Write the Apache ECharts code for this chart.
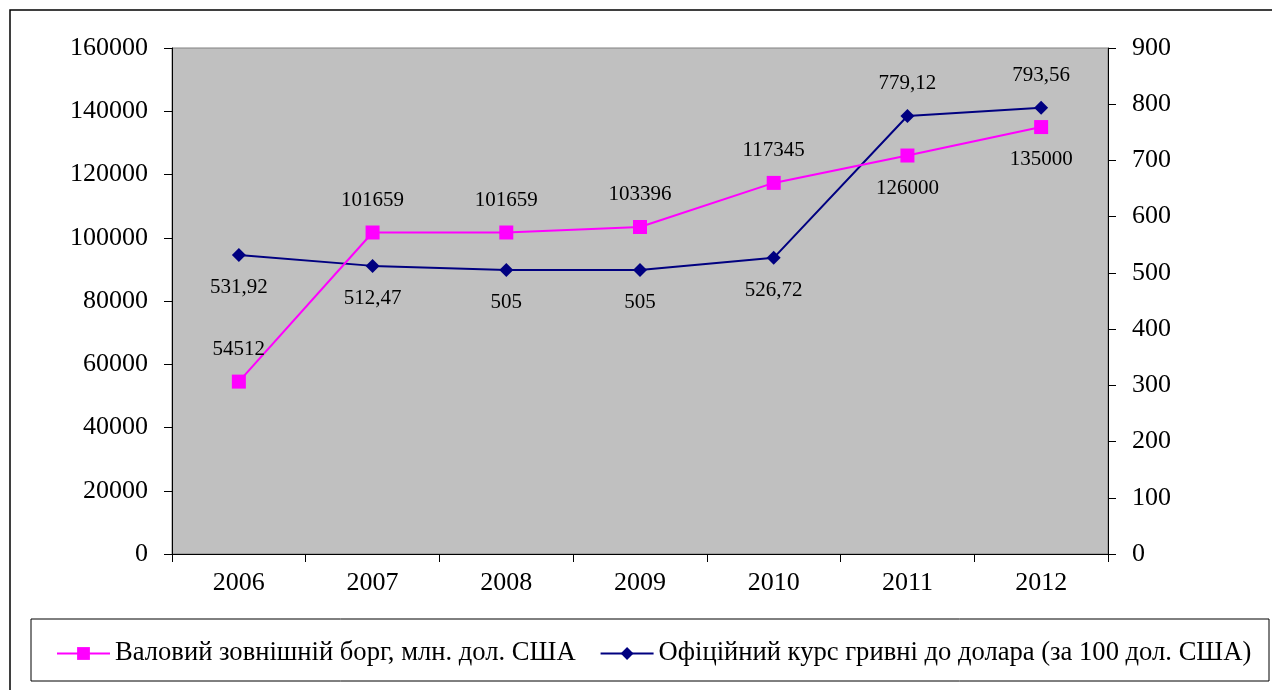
<!DOCTYPE html>
<html><head><meta charset="utf-8">
<script src="https://cdn.jsdelivr.net/npm/echarts@6/dist/echarts.min.js"></script>
<style>html,body{margin:0;padding:0;background:#fff}#c{width:1272px;height:690px}</style>
</head><body><div id="c"></div>
<script>
const years = ['2006','2007','2008','2009','2010','2011','2012'];
const debt = [54512, 101659, 101659, 103396, 117345, 126000, 135000];
const rate = [531.92, 512.47, 505, 505, 526.72, 779.12, 793.56];
const debtLabelPos = ['top','top','top','top','top','bottom','bottom'];
const rateLabelPos = ['bottom','bottom','bottom','bottom','bottom','top','top'];
const debtName = 'Валовий зовнішній борг, млн. дол. США';
const rateName = 'Офіційний курс гривні до долара (за 100 дол. США)';

const FONT = '"Liberation Serif", "Times New Roman", serif';
const fmt = v => String(v).replace('.', ',');

const chart = echarts.init(document.getElementById('c'));
chart.setOption({
  animation: false,
  textStyle: {fontFamily: FONT},
  grid: {left: 172, right: 164, top: 48, bottom: 136, show: true, backgroundColor: '#C0C0C0', borderColor: '#808080', borderWidth: 1},
  graphic: [
    {type: 'rect', shape: {x: 10, y: 10, width: 1300, height: 700}, style: {fill: 'none', stroke: '#000', lineWidth: 1.5}, silent: true},
    {type: 'rect', shape: {x: 31, y: 619, width: 1238, height: 62}, style: {fill: 'none', stroke: '#000', lineWidth: 1}, silent: true}
  ],
  legend: {
    bottom: 18, left: 51, itemWidth: 53, itemHeight: 16, itemGap: 24,
    textStyle: {fontFamily: FONT, fontSize: 26.6, color: '#000'},
    data: [debtName, rateName]
  },
  xAxis: {
    type: 'category', data: years, boundaryGap: true,
    axisLine: {lineStyle: {color: '#000', width: 1}},
    axisTick: {show: true, length: 8, lineStyle: {color: '#000'}},
    axisLabel: {fontFamily: FONT, fontSize: 26, color: '#000', margin: 16},
    splitLine: {show: false}
  },
  yAxis: [
    {type: 'value', min: 0, max: 160000, interval: 20000,
     axisLine: {show: true, lineStyle: {color: '#000'}},
     axisTick: {show: true, length: 8, lineStyle: {color: '#000'}},
     axisLabel: {fontFamily: FONT, fontSize: 26, color: '#000', margin: 24, formatter: v => String(v)},
     splitLine: {show: false}},
    {type: 'value', min: 0, max: 900, interval: 100, position: 'right',
     axisLine: {show: true, lineStyle: {color: '#000'}},
     axisTick: {show: true, length: 8, lineStyle: {color: '#000'}},
     axisLabel: {fontFamily: FONT, fontSize: 26, color: '#000', margin: 24, formatter: v => String(v)},
     splitLine: {show: false}}
  ],
  series: [
    {name: rateName, type: 'line', yAxisIndex: 1, symbol: 'diamond', symbolSize: 14,
     lineStyle: {color: '#000080', width: 2}, itemStyle: {color: '#000080'},
     data: rate.map((v, i) => ({value: v, label: {position: rateLabelPos[i]}})),
     label: {show: true, distance: 15, fontFamily: FONT, fontSize: 21, color: '#000', formatter: p => fmt(p.value)},
     z: 2},
    {name: debtName, type: 'line', yAxisIndex: 0, symbol: 'rect', symbolSize: 14,
     lineStyle: {color: '#FF00FF', width: 2}, itemStyle: {color: '#FF00FF'},
     data: debt.map((v, i) => ({value: v, label: {position: debtLabelPos[i]}})),
     label: {show: true, distance: 15, fontFamily: FONT, fontSize: 21, color: '#000', formatter: p => fmt(p.value)},
     z: 3}
  ]
});
</script></body></html>
